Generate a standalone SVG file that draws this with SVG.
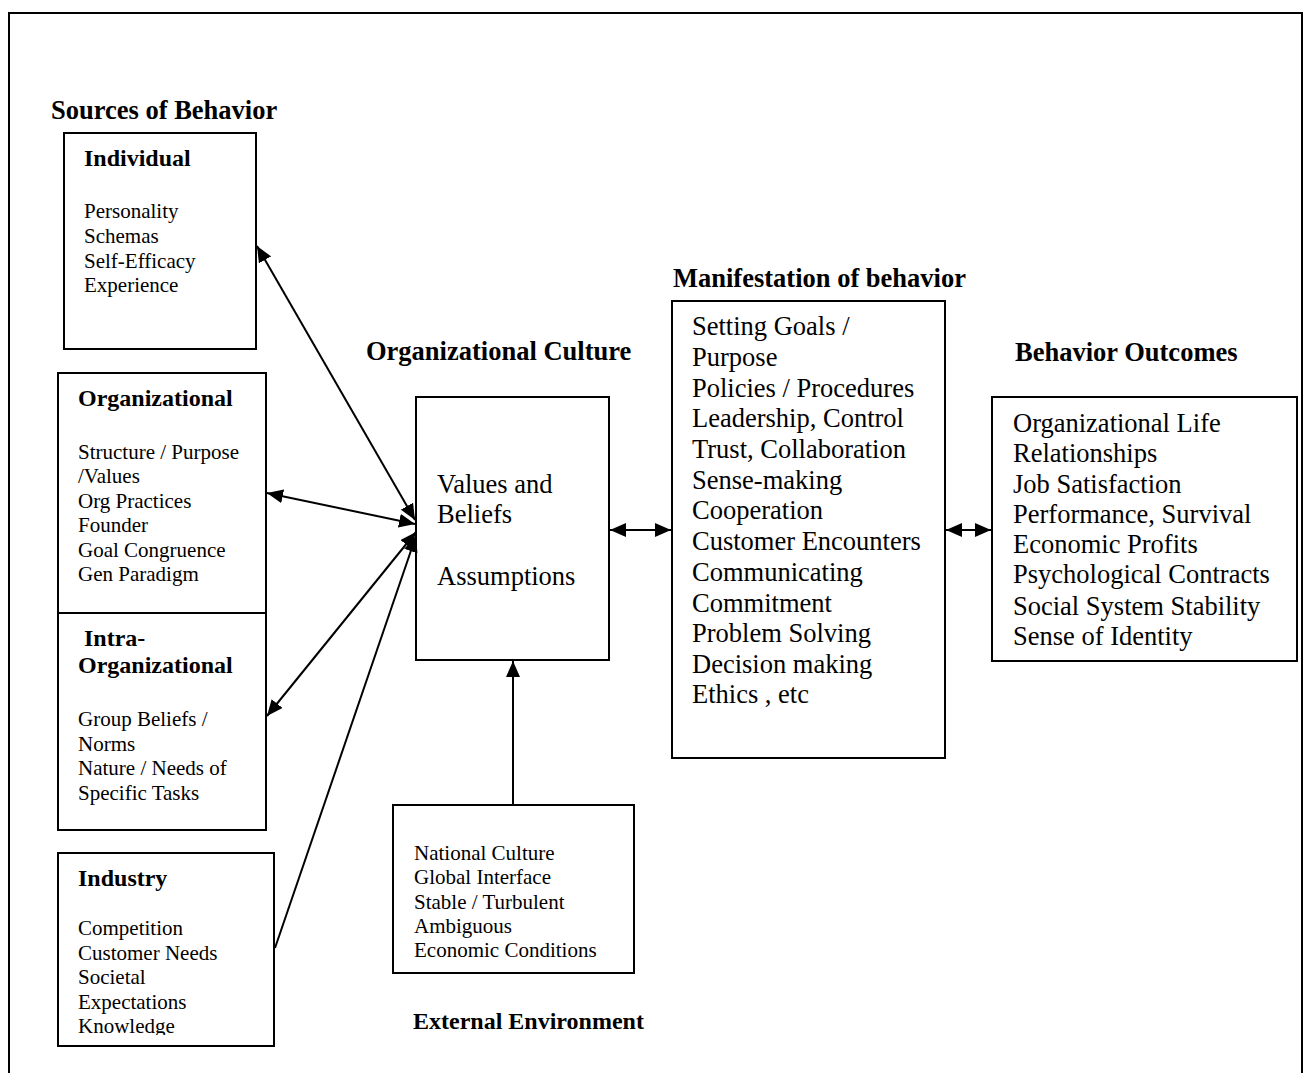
<svg xmlns="http://www.w3.org/2000/svg" width="1311" height="1073" viewBox="0 0 1311 1073">
<style>
  .box { fill: #fff; stroke: #000; stroke-width: 2; }
  .hd { font-family: "Liberation Serif", "Times New Roman", serif; font-weight: bold; font-size: 26.5px; fill: #000; }
  .sub { font-family: "Liberation Serif", "Times New Roman", serif; font-weight: bold; font-size: 24px; fill: #000; }
  .sm { font-family: "Liberation Serif", "Times New Roman", serif; font-size: 21px; fill: #000; }
  .lg { font-family: "Liberation Serif", "Times New Roman", serif; font-size: 26.5px; fill: #000; }
  .conn { stroke: #000; stroke-width: 2; fill: none; }
</style>
<defs>
  <marker id="ah" viewBox="0 0 16 14" refX="16" refY="7" markerWidth="16" markerHeight="14" markerUnits="userSpaceOnUse" orient="auto-start-reverse">
    <path d="M0,0 L16,7 L0,14 Z" fill="#000"/>
  </marker>
  <clipPath id="indclip"><rect x="58" y="853" width="216" height="182"/></clipPath>
</defs>
<rect width="1311" height="1073" fill="#fff"/>
<path d="M9,1080 L9,13 L1302,13 L1302,1080" fill="none" stroke="#000" stroke-width="2"/>

<text class="hd" x="51" y="119">Sources of Behavior</text>
<text class="hd" x="366" y="360">Organizational Culture</text>
<text class="hd" x="673" y="287">Manifestation of behavior</text>
<text class="hd" x="1015" y="361">Behavior Outcomes</text>
<text class="sub" x="413" y="1029">External Environment</text>

<g id="individual">
  <rect class="box" x="64" y="133" width="192" height="216"/>
  <text class="sub" x="84" y="166">Individual</text>
  <text class="sm" x="84"><tspan x="84" y="218">Personality</tspan><tspan x="84" y="243">Schemas</tspan><tspan x="84" y="268">Self-Efficacy</tspan><tspan x="84" y="292">Experience</tspan></text>
</g>

<g id="organizational">
  <rect class="box" x="58" y="373" width="208" height="240"/>
  <text class="sub" x="78" y="406">Organizational</text>
  <text class="sm"><tspan x="78" y="459">Structure / Purpose</tspan><tspan x="78" y="483">/Values</tspan><tspan x="78" y="508">Org Practices</tspan><tspan x="78" y="532">Founder</tspan><tspan x="78" y="557">Goal Congruence</tspan><tspan x="78" y="581">Gen Paradigm</tspan></text>
</g>

<g id="intra-organizational">
  <rect class="box" x="58" y="613" width="208" height="217"/>
  <text class="sub"><tspan x="84" y="646">Intra-</tspan><tspan x="78" y="673">Organizational</tspan></text>
  <text class="sm"><tspan x="78" y="726">Group Beliefs /</tspan><tspan x="78" y="751">Norms</tspan><tspan x="78" y="775">Nature / Needs of</tspan><tspan x="78" y="800">Specific Tasks</tspan></text>
</g>

<g id="industry">
  <rect class="box" x="58" y="853" width="216" height="193"/>
  <text class="sub" x="78" y="886">Industry</text>
  <text class="sm" clip-path="url(#indclip)"><tspan x="78" y="935">Competition</tspan><tspan x="78" y="960">Customer Needs</tspan><tspan x="78" y="984">Societal</tspan><tspan x="78" y="1009">Expectations</tspan><tspan x="78" y="1033">Knowledge</tspan></text>
</g>

<g id="culture">
  <rect class="box" x="416" y="397" width="193" height="263"/>
  <text class="lg"><tspan x="437" y="493">Values and</tspan><tspan x="437" y="523">Beliefs</tspan><tspan x="437" y="585">Assumptions</tspan></text>
</g>

<g id="external">
  <rect class="box" x="393" y="805" width="241" height="168"/>
  <text class="sm"><tspan x="414" y="860">National Culture</tspan><tspan x="414" y="884">Global Interface</tspan><tspan x="414" y="909">Stable / Turbulent</tspan><tspan x="414" y="933">Ambiguous</tspan><tspan x="414" y="957">Economic Conditions</tspan></text>
</g>

<g id="manifestation">
  <rect class="box" x="672" y="301" width="273" height="457"/>
  <text class="lg"><tspan x="692" y="335">Setting Goals /</tspan><tspan x="692" y="366">Purpose</tspan><tspan x="692" y="397">Policies / Procedures</tspan><tspan x="692" y="427">Leadership, Control</tspan><tspan x="692" y="458">Trust, Collaboration</tspan><tspan x="692" y="489">Sense-making</tspan><tspan x="692" y="519">Cooperation</tspan><tspan x="692" y="550">Customer Encounters</tspan><tspan x="692" y="581">Communicating</tspan><tspan x="692" y="612">Commitment</tspan><tspan x="692" y="642">Problem Solving</tspan><tspan x="692" y="673">Decision making</tspan><tspan x="692" y="703">Ethics , etc</tspan></text>
</g>

<g id="outcomes">
  <rect class="box" x="992" y="397" width="305" height="264"/>
  <text class="lg"><tspan x="1013" y="432">Organizational Life</tspan><tspan x="1013" y="462">Relationships</tspan><tspan x="1013" y="493">Job Satisfaction</tspan><tspan x="1013" y="523">Performance, Survival</tspan><tspan x="1013" y="553">Economic Profits</tspan><tspan x="1013" y="583">Psychological Contracts</tspan><tspan x="1013" y="615">Social System Stability</tspan><tspan x="1013" y="645">Sense of Identity</tspan></text>
</g>

<g id="connectors">
  <line class="conn" x1="415" y1="520" x2="257" y2="246" marker-start="url(#ah)" marker-end="url(#ah)"/>
  <line class="conn" x1="415" y1="524" x2="267" y2="493" marker-start="url(#ah)" marker-end="url(#ah)"/>
  <line class="conn" x1="416" y1="532" x2="267" y2="716" marker-start="url(#ah)" marker-end="url(#ah)"/>
  <line class="conn" x1="275" y1="948" x2="416" y2="536" marker-end="url(#ah)"/>
  <line class="conn" x1="513" y1="805" x2="513" y2="661" marker-end="url(#ah)"/>
  <line class="conn" x1="610" y1="530" x2="671" y2="530" marker-start="url(#ah)" marker-end="url(#ah)"/>
  <line class="conn" x1="946" y1="530" x2="991" y2="530" marker-start="url(#ah)" marker-end="url(#ah)"/>
</g>
</svg>
